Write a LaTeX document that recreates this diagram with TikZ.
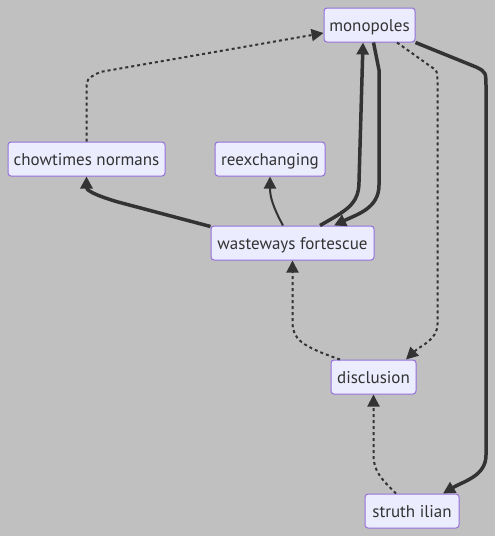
\documentclass[tikz,border=0pt]{standalone}
\usepackage{fontspec}
\setmainfont{PT Sans}
\usetikzlibrary{arrows.meta}
\definecolor{bg}{HTML}{C0C0C0}
\definecolor{nodefill}{HTML}{ECECFF}
\definecolor{nodeline}{HTML}{9370DB}
\definecolor{edge}{HTML}{333333}
\begin{document}
\begin{tikzpicture}[x=1pt,y=-1pt,
  box/.style={draw=nodeline, fill=nodefill, line width=1pt, rounded corners=3pt,
    minimum height=34pt, inner sep=0pt, text=edge, text height=12.5pt, text depth=0.5pt,
    font=\fontsize{17}{20}\selectfont},
  tip/.style={-{Triangle[length=12pt,width=12pt]}},
  thick edge/.style={tip, draw=edge, line width=3.5pt},
  normal edge/.style={tip, draw=edge, line width=2pt},
  dotted edge/.style={tip, draw=edge, line width=2pt, dash pattern=on 3pt off 3pt}]
\fill[bg] (0,0) rectangle (495,536);
\useasboundingbox (0,0) rectangle (495,536);
\node[box, minimum width=91pt] (mono) at (369.5,25) {monopoles};
\node[box, minimum width=110pt] (reex) at (270,159) {reexchanging};
\node[box, minimum width=157pt] (chow) at (86.5,159) {chowtimes normans};
\node[box, minimum width=163pt] (wast) at (292.5,243) {wasteways fortescue};
\node[box, minimum width=85pt] (disc) at (373.5,377) {disclusion};
\node[box, minimum width=94pt] (stru) at (412,511) {struth ilian};
% chowtimes -> monopoles (dotted)
\draw[dotted edge] (chow.north) -- (86.5,90) .. controls (86.5,79) .. (100,72) -- ([yshift=-8pt]mono.west);
% wasteways -> monopoles (thick)
\draw[thick edge] ([xshift=27.5pt]wast.north) .. controls (345,211) and (359,205) .. (359,182) -- ([xshift=-6.5pt]mono.south);
% monopoles -> wasteways (thick)
\draw[thick edge] ([xshift=4pt]mono.south) -- (379,70) -- (379,185) .. controls (379,208) and (358,214) .. ([xshift=41.5pt]wast.north);
% wasteways -> chowtimes (thick)
\draw[thick edge] ([yshift=-1pt]wast.north west) -- (118,202) .. controls (94,195) and (86.5,190) .. (chow.south);
% wasteways -> reexchanging (normal)
\draw[normal edge] ([xshift=-9.5pt]wast.north) .. controls (273,207) and (270,197) .. (reex.south);
% monopoles -> disclusion (dotted)
\draw[dotted edge] ([xshift=27.5pt]mono.south) -- (430,66) .. controls (437.5,71) .. (437.5,82) -- (437.5,324) .. controls (437.5,340) and (420,346) .. ([xshift=32.5pt]disc.north);
% monopoles -> struth ilian (thick)
\draw[thick edge] (mono.south east) -- (476,67) .. controls (486,72) .. (486,88) -- (486,455) .. controls (486,476) and (464,481) .. ([xshift=31pt]stru.north);
% disclusion -> wasteways (dotted)
\draw[dotted edge] ([xshift=-33.5pt]disc.north) .. controls (301,346) and (292.5,339) .. (292.5,322) -- (wast.south);
% struth ilian -> disclusion (dotted)
\draw[dotted edge] ([xshift=-16pt]stru.north) .. controls (380,478) and (373.5,470) .. (373.5,455) -- (disc.south);
\end{tikzpicture}
\end{document}
